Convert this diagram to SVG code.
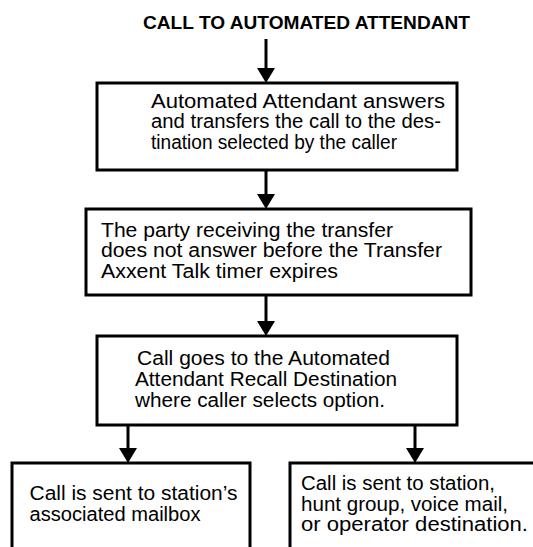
<svg xmlns="http://www.w3.org/2000/svg" width="533" height="547" viewBox="0 0 533 547">
<style>
  .box { fill: none; stroke: #000; stroke-width: 3; stroke-linejoin: miter; }
  .conn { fill: none; stroke: #000; stroke-width: 3; }
  text { font-family: "Liberation Sans", Arial, Helvetica, sans-serif; font-size: 19.5px; fill: #000; }
  .title { font-weight: bold; font-size: 18.5px; }
</style>
<defs>
  <marker id="arrow" viewBox="0 0 15 18" refX="0" refY="9" markerWidth="15" markerHeight="18" markerUnits="userSpaceOnUse" orient="auto">
    <path d="M0,0 L15,9 L0,18 z" fill="#000"/>
  </marker>
</defs>
<rect width="533" height="547" fill="#fff"/>

<g id="title">
  <text class="title" x="143" y="28.5" textLength="327" lengthAdjust="spacingAndGlyphs">CALL TO AUTOMATED ATTENDANT</text>
</g>

<g id="connectors">
  <line class="conn" x1="266" y1="39" x2="266" y2="68" marker-end="url(#arrow)"/>
  <line class="conn" x1="266" y1="170" x2="266" y2="194" marker-end="url(#arrow)"/>
  <line class="conn" x1="266" y1="295" x2="266" y2="321" marker-end="url(#arrow)"/>
  <line class="conn" x1="128" y1="425" x2="128" y2="448" marker-end="url(#arrow)"/>
  <line class="conn" x1="415" y1="425" x2="415" y2="448" marker-end="url(#arrow)"/>
</g>

<g id="node1">
  <rect class="box" x="97" y="83" width="360" height="87"/>
  <text x="151" y="107.5" textLength="294" lengthAdjust="spacingAndGlyphs">Automated Attendant answers</text>
  <text x="151" y="128.3" textLength="290" lengthAdjust="spacingAndGlyphs">and transfers the call to the des-</text>
  <text x="151" y="149" textLength="246" lengthAdjust="spacingAndGlyphs">tination selected by the caller</text>
</g>

<g id="node2">
  <rect class="box" x="86" y="209" width="385" height="86"/>
  <text x="101" y="236.5" textLength="292" lengthAdjust="spacingAndGlyphs">The party receiving the transfer</text>
  <text x="101" y="257" textLength="341" lengthAdjust="spacingAndGlyphs">does not answer before the Transfer</text>
  <text x="101" y="277.5" textLength="237" lengthAdjust="spacingAndGlyphs">Axxent Talk timer expires</text>
</g>

<g id="node3">
  <rect class="box" x="97" y="336" width="360" height="89"/>
  <text x="137" y="365" textLength="253" lengthAdjust="spacingAndGlyphs">Call goes to the Automated</text>
  <text x="135" y="386" textLength="262" lengthAdjust="spacingAndGlyphs">Attendant Recall Destination</text>
  <text x="135" y="406.7" textLength="250" lengthAdjust="spacingAndGlyphs">where caller selects option.</text>
</g>

<g id="node4">
  <path class="box" d="M12,550 V463 H250 V550"/>
  <text x="29.5" y="500" textLength="208" lengthAdjust="spacingAndGlyphs">Call is sent to station’s</text>
  <text x="29.5" y="520.7" textLength="171" lengthAdjust="spacingAndGlyphs">associated mailbox</text>
</g>

<g id="node5">
  <path class="box" d="M290,550 V463 H540"/>
  <text x="301" y="490" textLength="194" lengthAdjust="spacingAndGlyphs">Call is sent to station,</text>
  <text x="301" y="510.7" textLength="207" lengthAdjust="spacingAndGlyphs">hunt group, voice mail,</text>
  <text x="301" y="531" textLength="227" lengthAdjust="spacingAndGlyphs">or operator destination.</text>
</g>
</svg>
